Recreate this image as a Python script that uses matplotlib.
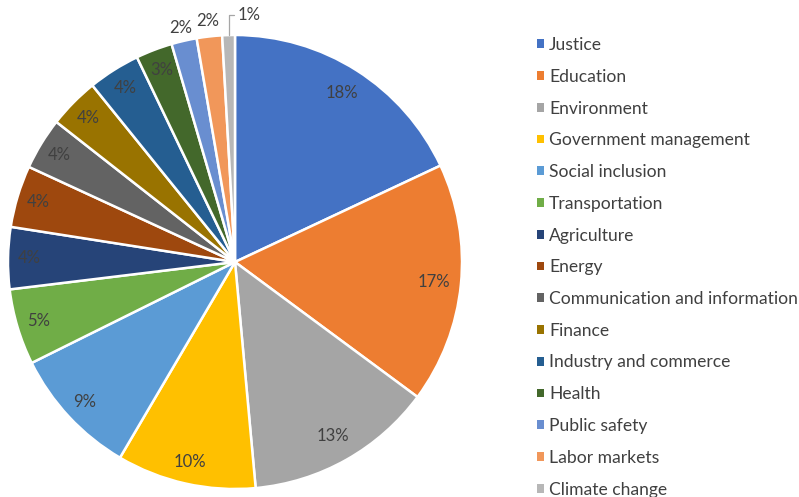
import numpy as np
import matplotlib
matplotlib.use("Agg")
import matplotlib.pyplot as plt
from matplotlib.patches import Patch

plt.rcParams['font.family'] = ['Lato', 'DejaVu Sans']

categories = ["Justice", "Education", "Environment", "Government management",
              "Social inclusion", "Transportation", "Agriculture", "Energy",
              "Communication and information", "Finance", "Industry and commerce",
              "Health", "Public safety", "Labor markets", "Climate change"]
shares = [18.0, 17.1, 13.4, 9.9, 9.2, 5.4, 4.4, 4.4, 3.7, 3.6, 3.7, 2.6, 1.8, 1.8, 0.9]
colors = ["#4472C4", "#ED7D31", "#A5A5A5", "#FFC000", "#5B9BD5", "#70AD47",
          "#264478", "#9E480E", "#636363", "#997300", "#255E91", "#43682B",
          "#698ED0", "#F1975A", "#B7B7B7"]

fig = plt.figure(figsize=(7.99, 4.97), dpi=100)
ax = fig.add_axes([8 / 799, 8 / 497, 454 / 799, 454 / 497])

wedges, texts = ax.pie(shares, colors=colors, startangle=90, counterclock=False,
                       labels=[f"{v:.0f}%" for v in shares], labeldistance=1.0,
                       wedgeprops=dict(edgecolor="white", linewidth=1.8),
                       textprops=dict(color="#404040", fontsize=12),
                       radius=1.0)
ax.set_xlim(-1, 1)
ax.set_ylim(-1, 1)
ax.set_aspect("auto")


def place(i, r):
    w = wedges[i]
    mid = np.deg2rad((w.theta1 + w.theta2) / 2)
    texts[i].set_position((r * np.cos(mid), r * np.sin(mid)))
    texts[i].set_ha("center")
    texts[i].set_va("center")
    return mid


# inside labels near the rim; the thinnest slices get theirs outside
for i in range(12):
    x_side = np.cos(np.deg2rad((wedges[i].theta1 + wedges[i].theta2) / 2))
    place(i, 0.88 if x_side > 0 else 0.905)
place(12, 1.057)
place(13, 1.07)

mid = place(14, 1.0)
texts[14].set_visible(False)
ax.annotate(f"{shares[14]:.0f}%", xy=(np.cos(mid), np.sin(mid)), xytext=(0.01, 1.088),
            ha="left", va="center", color="#404040", fontsize=12,
            arrowprops=dict(arrowstyle="-", color="#A6A6A6", lw=0.9,
                            connectionstyle="angle,angleA=0,angleB=90,rad=0",
                            shrinkA=0, shrinkB=0))

handles = [Patch(facecolor=c, edgecolor="none") for c in colors]
fig.legend(handles, categories, loc="upper left",
           bbox_to_anchor=(530 / 799, 1 - 30 / 497), frameon=False,
           fontsize=12.6, handlelength=0.4, handleheight=0.4,
           handletextpad=0.29, labelspacing=0.9, labelcolor="#404040",
           borderaxespad=0)

fig.savefig("out.png", dpi=100, facecolor="white")
